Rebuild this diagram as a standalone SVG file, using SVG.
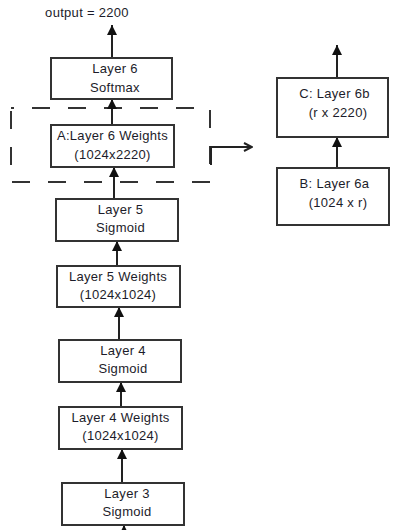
<svg xmlns="http://www.w3.org/2000/svg" width="399" height="530" viewBox="0 0 399 530">
<style>
.box{fill:#fff;stroke:#333;stroke-width:2}
.t{font-family:"Liberation Sans",Arial,sans-serif;font-size:13px;letter-spacing:0.3px;fill:#1c1c2a;text-anchor:middle}
.c{stroke:#222;stroke-width:2;fill:none}
.dash{fill:none;stroke:#333;stroke-width:2;stroke-dasharray:18 18;stroke-dashoffset:15}
</style>
<defs>
<marker id="ah" markerWidth="10" markerHeight="10" refX="10" refY="5" orient="auto" markerUnits="userSpaceOnUse">
<path d="M0,0 L10,5 L0,10 z" fill="#111"/>
</marker>
<marker id="oh" markerWidth="10" markerHeight="10" refX="9" refY="5" orient="auto" markerUnits="userSpaceOnUse">
<path d="M1,1 L9,5 L1,9" fill="none" stroke="#222" stroke-width="2"/>
</marker>
</defs>
<text class="t" x="87" y="17">output = 2200</text>
<rect class="dash" x="11" y="108" width="199" height="74"/>
<g id="connectors">
<line class="c" x1="112" y1="58" x2="112" y2="25" marker-end="url(#ah)"/>
<line class="c" x1="112" y1="125" x2="112" y2="99" marker-end="url(#ah)"/>
<line class="c" x1="114" y1="199" x2="114" y2="167" marker-end="url(#ah)"/>
<line class="c" x1="117" y1="266" x2="117" y2="241" marker-end="url(#ah)"/>
<line class="c" x1="119" y1="340" x2="119" y2="307" marker-end="url(#ah)"/>
<line class="c" x1="121" y1="407" x2="121" y2="382" marker-end="url(#ah)"/>
<line class="c" x1="122" y1="483" x2="122" y2="449" marker-end="url(#ah)"/>
<line class="c" x1="124" y1="545" x2="124" y2="525" marker-end="url(#ah)"/>
<line class="c" x1="337" y1="78" x2="337" y2="45" marker-end="url(#ah)"/>
<line class="c" x1="337" y1="168" x2="337" y2="137" marker-end="url(#ah)"/>
<polyline class="c" points="211,165 211,147 252,147" marker-end="url(#oh)"/>
</g>
<g id="layer6">
<rect class="box" x="51" y="58" width="121" height="41"/>
<text class="t" x="115" y="72.5">Layer 6</text>
<text class="t" x="115" y="92">Softmax</text>
</g>
<g id="layer6w">
<rect class="box" x="51" y="125" width="123" height="42"/>
<text class="t" x="112.5" y="140">A:Layer 6 Weights</text>
<text class="t" x="112.5" y="159">(1024x2220)</text>
</g>
<g id="layer5">
<rect class="box" x="56" y="199" width="122" height="42"/>
<text class="t" x="120.5" y="214">Layer 5</text>
<text class="t" x="120.5" y="232">Sigmoid</text>
</g>
<g id="layer5w">
<rect class="box" x="57" y="266" width="123" height="41"/>
<text class="t" x="118" y="281">Layer 5 Weights</text>
<text class="t" x="118" y="299">(1024x1024)</text>
</g>
<g id="layer4">
<rect class="box" x="59" y="340" width="122" height="42"/>
<text class="t" x="123" y="355">Layer 4</text>
<text class="t" x="123" y="373">Sigmoid</text>
</g>
<g id="layer4w">
<rect class="box" x="59" y="407" width="123" height="42"/>
<text class="t" x="120.5" y="422">Layer 4 Weights</text>
<text class="t" x="120.5" y="440">(1024x1024)</text>
</g>
<g id="layer3">
<rect class="box" x="62" y="483" width="122" height="42"/>
<text class="t" x="127" y="498">Layer 3</text>
<text class="t" x="127" y="516">Sigmoid</text>
</g>
<g id="layer6b">
<rect class="box" x="277" y="78" width="111" height="59"/>
<text class="t" x="334.5" y="98">C: Layer 6b</text>
<text class="t" x="338" y="117">(r x 2220)</text>
</g>
<g id="layer6a">
<rect class="box" x="277" y="168" width="112" height="57"/>
<text class="t" x="334.5" y="188">B: Layer 6a</text>
<text class="t" x="338" y="207">(1024 x r)</text>
</g>
</svg>
